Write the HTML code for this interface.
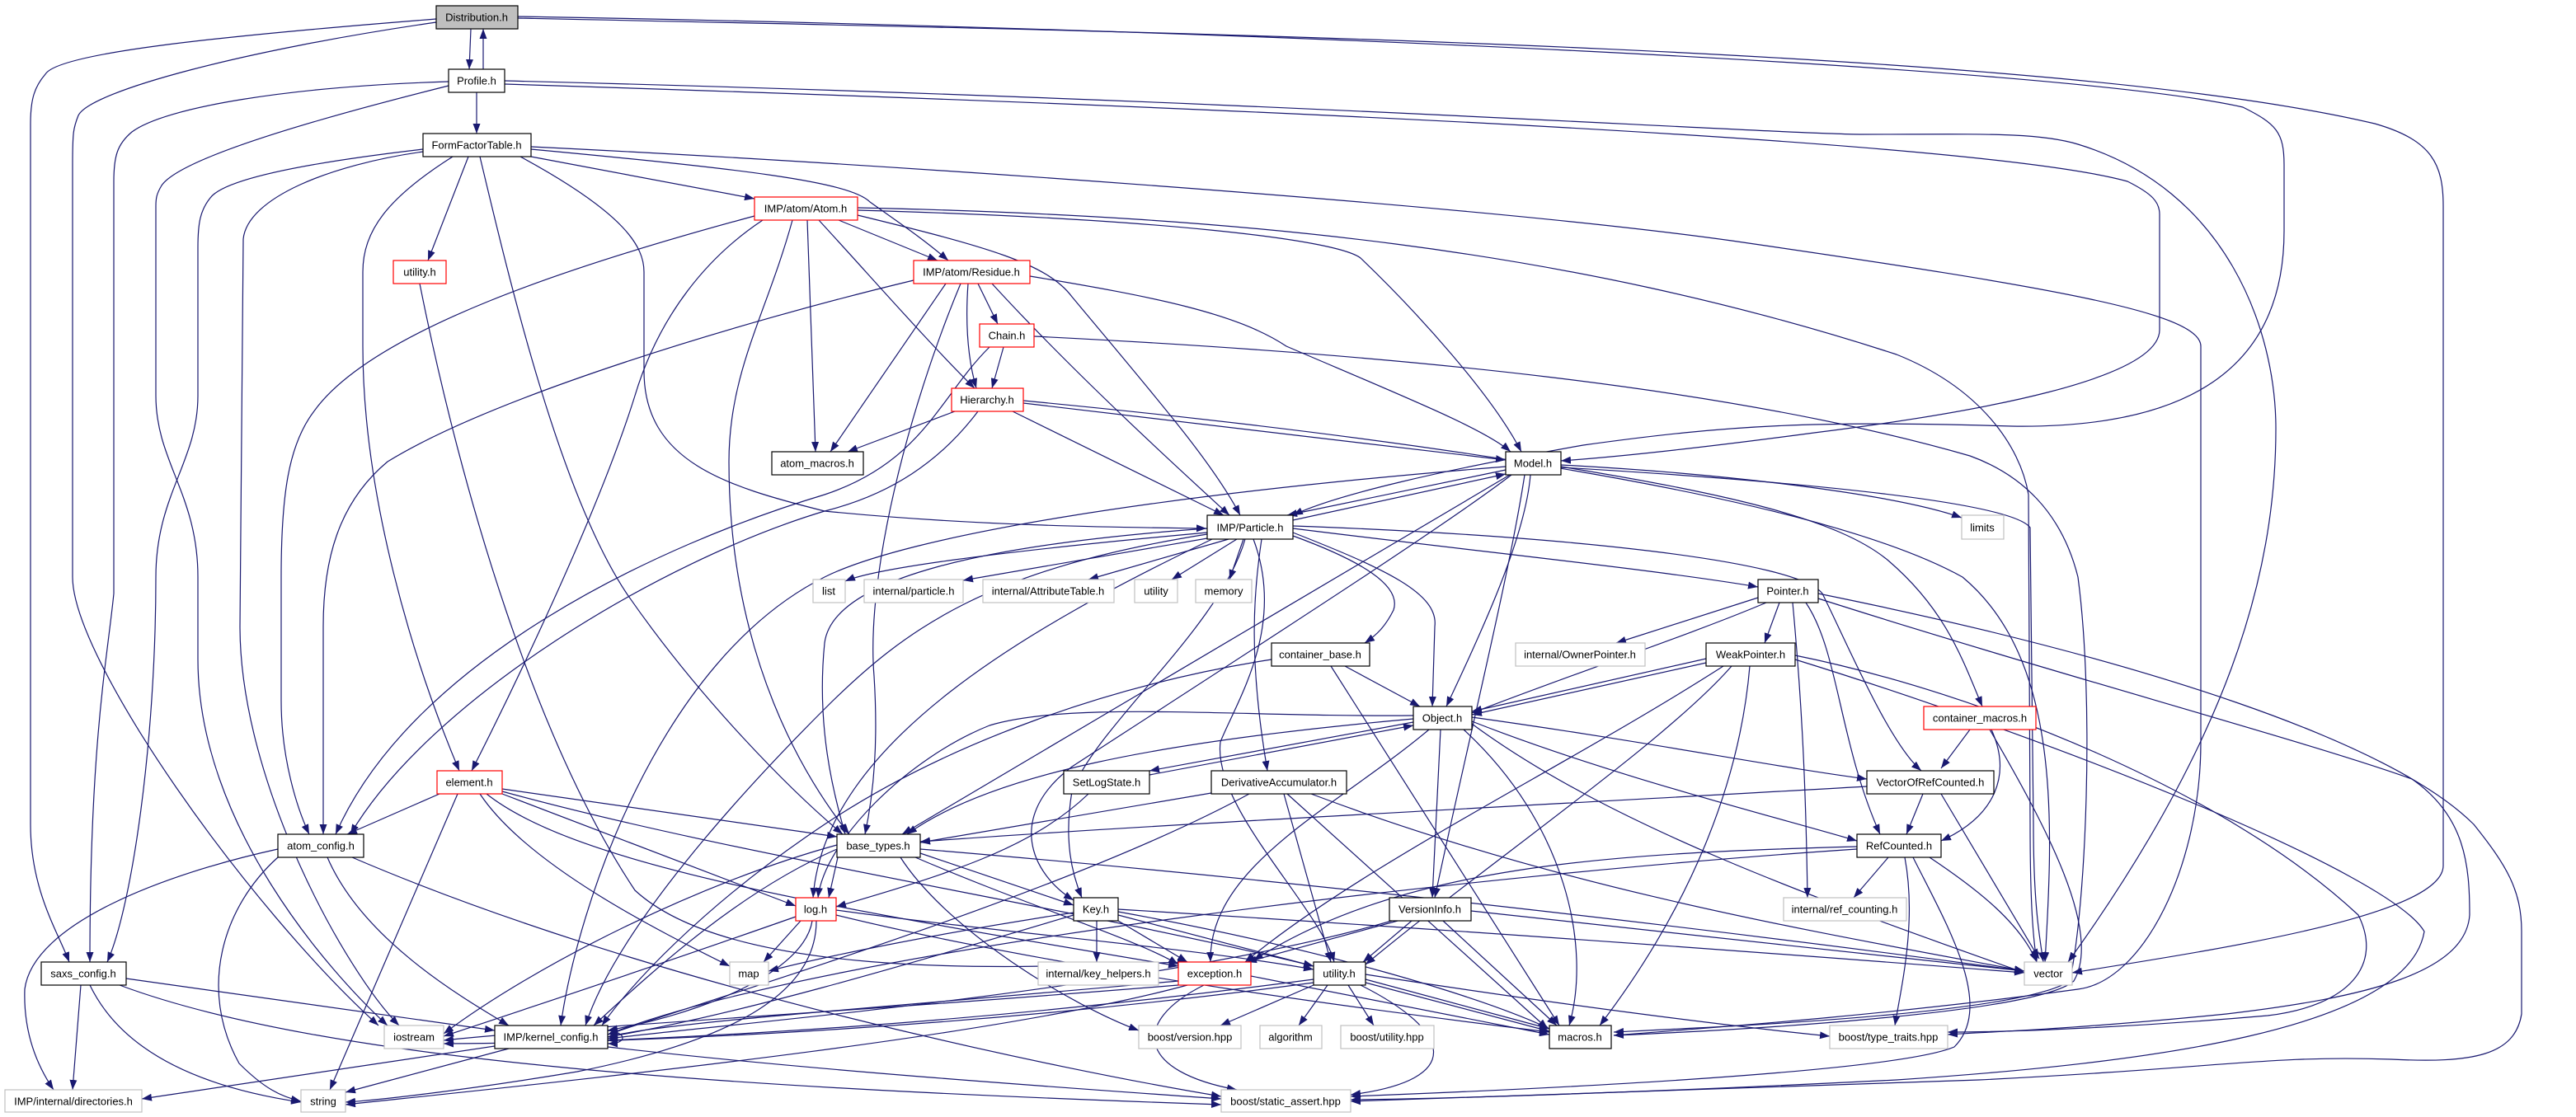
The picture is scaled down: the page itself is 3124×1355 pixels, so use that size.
<!DOCTYPE html>
<html><head><meta charset="utf-8"><style>
html,body{margin:0;padding:0;background:#fff;}
svg{display:block;}
text{font-family:"Liberation Sans",sans-serif;font-size:13px;fill:#000;text-anchor:middle;dominant-baseline:central;}
.e{fill:none;stroke:#191970;stroke-width:1.2;marker-end:url(#a);}
.n{fill:#fff;stroke:#000;stroke-width:1.2;}
.g{fill:#fff;stroke:#c0c0c0;stroke-width:1.2;}
.r{fill:#fff;stroke:#ff0000;stroke-width:1.2;}
</style></head><body>
<svg width="3124" height="1355" viewBox="0 0 3124 1355" xmlns="http://www.w3.org/2000/svg">
<defs><marker id="a" markerUnits="userSpaceOnUse" markerWidth="12" markerHeight="9" refX="12" refY="4.5" orient="auto"><path d="M0,0 L12,4.5 L0,9 z" fill="#191970"/></marker></defs>
<g>
<!-- D / P -->
<path class="e" d="M571,35 L569,84"/>
<path class="e" d="M586,84 L586,35"/>
<path class="e" d="M529,23 C250,45 70,65 55,90 C42,105 37,120 37,150 L37,1000 C37,1080 70,1130 84,1167"/>
<path class="e" d="M529,27 C300,60 110,110 95,140 C89,155 88,160 88,200 L88,700 C88,800 300,1100 459,1244"/>
<path class="e" d="M544,99 C350,105 200,130 160,160 C142,175 138,190 138,220 L138,720 C130,800 109,900 109,1167"/>
<path class="e" d="M544,104 C400,140 220,190 196,225 C190,235 189,240 189,250 L189,480 C189,560 240,600 240,700 L240,800 C240,1000 400,1180 470,1244"/>
<path class="e" d="M513,181 C350,200 270,220 255,240 C243,255 240,270 240,300 L240,480 C240,560 189,600 189,700 C189,900 160,1100 130,1167"/>
<path class="e" d="M513,184 C400,200 300,240 295,290 L291,760 C291,950 420,1180 484,1244"/>
<path class="e" d="M628,22 C1500,40 2500,60 2880,150 C2950,170 2963,200 2963,250 L2963,1050 C2963,1110 2700,1150 2513,1180"/>
<path class="e" d="M628,20 C1500,35 2500,80 2720,130 C2760,150 2770,160 2770,200 L2770,280 C2770,450 2650,520 2440,517 C2200,510 2100,515 1920,540 C1750,570 1620,600 1568,625"/>
<path class="e" d="M612,98 C1500,120 2100,160 2255,163 C2400,163 2470,160 2520,175 C2700,230 2760,400 2760,520 C2760,700 2700,900 2508,1167"/>
<path class="e" d="M612,102 C1500,130 2400,170 2580,220 C2610,235 2619,245 2619,260 L2619,400 C2619,460 2400,500 2200,525 C2050,545 1950,555 1893,559"/>
<path class="e" d="M578,112 L578,162"/>
<!-- FFT -->
<path class="e" d="M568,190 L519,316"/>
<path class="e" d="M549,190 C470,240 440,280 440,330 L440,420 C440,600 500,800 557,935"/>
<path class="e" d="M582,190 C620,350 680,600 760,720 C850,850 960,960 1022,1012"/>
<path class="e" d="M631,190 C760,260 781,300 781,330 L781,450 C781,560 880,590 1000,620 C1200,640 1400,640 1463,641"/>
<path class="e" d="M644,190 L915,241"/>
<path class="e" d="M644,181 C900,205 1030,220 1055,245 C1090,270 1120,290 1150,316"/>
<path class="e" d="M644,178 C1100,200 1800,250 2100,292 C2500,350 2669,380 2669,420 L2669,900 C2669,1050 2600,1190 2520,1200 C2300,1230 2100,1245 1957,1256"/>
<!-- Atom -->
<path class="e" d="M915,262 C700,320 450,400 380,500 C350,540 341,600 341,700 L341,850 C341,920 360,980 375,1012"/>
<path class="e" d="M925,267 C860,310 800,380 770,480 C720,640 600,880 572,935"/>
<path class="e" d="M961,267 C930,380 884,450 884,560 C884,800 980,950 1030,1012"/>
<path class="e" d="M979,267 L989,548"/>
<path class="e" d="M993,267 C1060,340 1130,420 1182,471"/>
<path class="e" d="M1017,267 L1137,316"/>
<path class="e" d="M1040,261 C1200,300 1270,320 1300,360 C1400,480 1470,560 1504,625"/>
<path class="e" d="M1040,255 C1400,265 1620,290 1650,313 C1720,380 1810,480 1845,548"/>
<path class="e" d="M1040,252 C1500,262 1900,300 2300,430 C2400,470 2450,540 2460,600 L2462,1000 C2462,1100 2466,1140 2470,1167"/>
<!-- Residue -->
<path class="e" d="M1108,340 C900,390 600,480 470,560 C410,610 392,680 392,760 L392,1012"/>
<path class="e" d="M1147,344 L1007,548"/>
<path class="e" d="M1165,344 C1100,500 1050,700 1060,820 C1065,900 1060,960 1049,1012"/>
<path class="e" d="M1186,344 L1210,393"/>
<path class="e" d="M1174,344 C1170,400 1175,440 1184,471"/>
<path class="e" d="M1203,344 C1300,450 1420,560 1491,625"/>
<path class="e" d="M1249,335 C1400,360 1500,380 1560,420 C1700,480 1800,520 1832,548"/>
<!-- Chain / Hier -->
<path class="e" d="M1217,421 L1203,471"/>
<path class="e" d="M1200,421 C1140,480 1120,560 1000,600 C800,660 500,800 407,1012"/>
<path class="e" d="M1254,408 C1700,430 2100,470 2389,553 C2450,575 2500,620 2520,700 C2540,850 2530,1100 2510,1190 C2450,1230 2100,1245 1957,1252"/>
<path class="e" d="M1158,499 L1028,548"/>
<path class="e" d="M1186,499 C1140,560 1080,600 1000,620 C800,680 520,850 425,1012"/>
<path class="e" d="M1228,499 L1484,625"/>
<path class="e" d="M1241,489 L1826,558"/>
<path class="e" d="M1241,486 C1700,530 2200,600 2380,700 C2500,800 2490,1000 2480,1167"/>
<!-- Model -->
<path class="e" d="M1826,570 L1561,625"/>
<path class="e" d="M1568,631 L1826,575"/>
<path class="e" d="M1831,576 L1094,1012"/>
<path class="e" d="M1826,566 C1400,600 1100,650 1000,700 C800,800 700,1100 680,1244"/>
<path class="e" d="M1856,576 C1850,650 1800,760 1754,857"/>
<path class="e" d="M1849,576 C1830,700 1780,900 1740,1089"/>
<path class="e" d="M1893,564 C2100,575 2300,600 2379,628"/>
<path class="e" d="M1893,566 C2100,600 2230,630 2290,680 C2360,740 2380,800 2404,857"/>
<path class="e" d="M1893,567 C2200,585 2440,610 2462,640 L2466,1000 C2466,1100 2474,1140 2478,1167"/>
<path class="e" d="M1833,576 C1750,640 1500,800 1300,930 C1220,990 1250,1060 1302,1092"/>
<!-- Particle -->
<path class="e" d="M1464,646 C1200,670 1060,690 1025,705"/>
<path class="e" d="M1470,652 L1168,704"/>
<path class="e" d="M1490,654 L1320,703"/>
<path class="e" d="M1500,654 L1421,703"/>
<path class="e" d="M1508,654 L1491,703"/>
<path class="e" d="M1568,650 C1650,680 1700,710 1690,740 C1680,760 1670,770 1655,780"/>
<path class="e" d="M1568,646 C1680,690 1745,720 1740,760 L1737,857"/>
<path class="e" d="M1530,654 C1520,720 1514,800 1537,935"/>
<path class="e" d="M1568,641 C1800,670 2000,690 2132,712"/>
<path class="e" d="M1568,638 C1900,650 2180,680 2210,720 C2240,780 2290,900 2330,935"/>
<path class="e" d="M1464,641 C1200,660 1010,700 1000,780 C990,880 1010,960 1025,1012"/>
<path class="e" d="M1464,648 C1200,690 1100,760 1000,860 C850,1010 740,1150 710,1244"/>
<path class="e" d="M1470,654 C1250,760 1000,900 986,1089"/>
<path class="e" d="M1520,654 C1560,760 1500,850 1480,900 C1470,980 1600,1100 1618,1167"/>
<path class="e" d="M1510,654 C1480,760 1330,880 1300,960 C1290,1020 1300,1060 1312,1089"/>
<!-- Pointer / Weak -->
<path class="e" d="M2158,731 L2140,780"/>
<path class="e" d="M2132,725 L1960,780"/>
<path class="e" d="M2142,731 C2050,770 1900,820 1785,865"/>
<path class="e" d="M2190,731 C2230,790 2230,900 2280,1012"/>
<path class="e" d="M2174,731 C2185,850 2190,950 2192,1089"/>
<path class="e" d="M2205,726 C2500,820 2800,900 2925,945 C2990,990 2995,1050 2995,1110 C2990,1180 2870,1210 2700,1230 C2500,1250 2400,1252 2362,1255"/>
<path class="e" d="M2205,720 C2600,800 2900,900 3000,1000 C3040,1050 3058,1080 3058,1130 L3058,1230 C3050,1280 3000,1290 2900,1285 C2750,1280 2700,1295 2400,1310 C2000,1325 1700,1335 1638,1336"/>
<path class="e" d="M2069,799 L1785,863"/>
<path class="e" d="M2069,804 L1785,867"/>
<path class="e" d="M2090,808 C1900,930 1650,1050 1510,1167"/>
<path class="e" d="M2100,808 C2020,900 1800,1050 1656,1170"/>
<path class="e" d="M2122,808 C2110,950 2050,1100 1940,1244"/>
<path class="e" d="M2177,795 C2400,840 2700,960 2860,1110 C2890,1170 2850,1220 2750,1232 C2600,1245 2450,1252 2362,1252"/>
<path class="e" d="M2177,800 C2500,900 2900,1060 2940,1130 C2920,1250 2600,1290 2300,1310 C2000,1325 1750,1333 1638,1334"/>
<!-- cmac / VecRC / RefC -->
<path class="e" d="M2389,885 L2354,932"/>
<path class="e" d="M2415,885 C2440,940 2420,990 2354,1020"/>
<path class="e" d="M2413,885 C2480,1000 2550,1130 2515,1190 C2470,1230 2100,1250 1957,1256"/>
<path class="e" d="M2332,963 L2312,1012"/>
<path class="e" d="M2354,963 L2473,1163"/>
<path class="e" d="M2264,954 C1900,975 1400,1000 1116,1021"/>
<path class="e" d="M2290,1040 L2248,1089"/>
<path class="e" d="M2340,1040 C2400,1080 2450,1120 2470,1167"/>
<path class="e" d="M2310,1040 C2325,1120 2305,1200 2298,1244"/>
<path class="e" d="M2320,1040 C2360,1120 2420,1220 2370,1270 C2300,1300 1900,1320 1638,1330"/>
<path class="e" d="M2252,1027 C1950,1035 1700,1050 1520,1165"/>
<path class="e" d="M2252,1030 C1800,1060 1000,1150 737,1255"/>
<!-- Object -->
<path class="e" d="M1714,876 L1394,935"/>
<path class="e" d="M1394,940 L1714,880"/>
<path class="e" d="M1785,870 C2000,900 2150,930 2264,945"/>
<path class="e" d="M1785,875 C1950,940 2150,990 2252,1020"/>
<path class="e" d="M1747,885 L1737,1089"/>
<path class="e" d="M1733,885 C1620,980 1465,1050 1468,1167"/>
<path class="e" d="M1775,885 C1900,1000 1930,1150 1903,1244"/>
<path class="e" d="M1785,878 C1950,1000 2200,1090 2455,1180"/>
<path class="e" d="M1714,872 C1400,900 1200,940 1100,1012"/>
<path class="e" d="M1714,868 C1500,870 1300,850 1200,880 C1100,920 1000,1020 992,1089"/>
<!-- cbase / SetLog / Deriv -->
<path class="e" d="M1631,808 L1722,857"/>
<path class="e" d="M1542,800 C1350,830 1150,900 1000,1000 C850,1100 760,1200 730,1244"/>
<path class="e" d="M1614,808 L1891,1244"/>
<path class="e" d="M1320,963 C1250,1030 1150,1060 1014,1100"/>
<path class="e" d="M1469,962 L1116,1022"/>
<path class="e" d="M1515,963 C1300,1080 900,1200 737,1255"/>
<path class="e" d="M1557,963 L1614,1167"/>
<path class="e" d="M1561,963 L1877,1248"/>
<path class="e" d="M1590,963 C1900,1080 2200,1130 2455,1178"/>
<!-- element -->
<path class="e" d="M533,963 L421,1012"/>
<path class="e" d="M555,963 L400,1322"/>
<path class="e" d="M609,957 L1015,1015"/>
<path class="e" d="M609,963 L965,1099"/>
<path class="e" d="M582,963 C640,1050 800,1130 885,1172"/>
<path class="e" d="M590,963 C700,1050 1000,1100 1429,1172"/>
<path class="e" d="M609,960 C900,1040 1300,1100 1593,1172"/>
<!-- aconf -->
<path class="e" d="M337,1030 C200,1060 40,1120 30,1200 C28,1260 50,1300 65,1322"/>
<path class="e" d="M337,1040 C270,1100 240,1200 290,1290 C320,1320 340,1330 365,1336"/>
<path class="e" d="M397,1040 C440,1140 560,1210 617,1244"/>
<path class="e" d="M427,1040 C800,1200 1300,1300 1481,1330"/>
<!-- btypes -->
<path class="e" d="M1015,1030 C900,1080 800,1170 720,1244"/>
<path class="e" d="M1015,1025 C850,1070 650,1170 538,1254"/>
<path class="e" d="M1116,1035 L1302,1098"/>
<path class="e" d="M1110,1040 C1250,1100 1380,1140 1429,1170"/>
<path class="e" d="M1092,1040 C1150,1130 1300,1220 1381,1250"/>
<path class="e" d="M1116,1030 C1600,1070 2100,1130 2455,1178"/>
<path class="e" d="M1016,1040 L1005,1089"/>
<!-- log -->
<path class="e" d="M971,1117 L926,1167"/>
<path class="e" d="M965,1112 C800,1170 650,1220 538,1257"/>
<path class="e" d="M985,1117 C975,1180 850,1230 737,1250"/>
<path class="e" d="M990,1117 C990,1200 900,1260 700,1300 C550,1325 450,1335 419,1337"/>
<path class="e" d="M1014,1104 C1200,1130 1450,1150 1593,1176"/>
<path class="e" d="M1014,1110 C1300,1180 1700,1230 1879,1252"/>
<!-- Key -->
<path class="e" d="M1330,1117 L1330,1167"/>
<path class="e" d="M1356,1117 L1440,1167"/>
<path class="e" d="M1356,1110 L1593,1172"/>
<path class="e" d="M1302,1107 C1150,1130 1000,1160 932,1178"/>
<path class="e" d="M1356,1106 C1600,1150 1800,1210 1879,1248"/>
<path class="e" d="M1356,1103 C1800,1130 2200,1160 2455,1180"/>
<path class="e" d="M1302,1110 C1100,1170 900,1230 737,1258"/>
<!-- VersionInfo -->
<path class="e" d="M1695,1117 L1512,1167"/>
<path class="e" d="M1712,1117 L1653,1167"/>
<path class="e" d="M1750,1117 L1888,1244"/>
<path class="e" d="M1784,1105 L2455,1178"/>
<path class="e" d="M1688,1117 C1400,1200 900,1240 737,1260"/>
<!-- exception -->
<path class="e" d="M1429,1190 C1100,1220 800,1240 737,1258"/>
<path class="e" d="M1429,1195 C1000,1230 700,1245 538,1262"/>
<path class="e" d="M1440,1195 C1200,1260 700,1310 419,1340"/>
<path class="e" d="M1460,1195 C1370,1240 1380,1300 1500,1322"/>
<path class="e" d="M1517,1184 L1879,1255"/>
<!-- utility.h -->
<path class="e" d="M1593,1195 L1480,1244"/>
<path class="e" d="M1610,1195 L1575,1244"/>
<path class="e" d="M1635,1195 L1666,1244"/>
<path class="e" d="M1656,1188 L1879,1248"/>
<path class="e" d="M1656,1192 L1879,1251"/>
<path class="e" d="M1656,1182 C1900,1220 2100,1245 2219,1257"/>
<path class="e" d="M1650,1195 C1760,1250 1780,1310 1638,1328"/>
<path class="e" d="M1593,1188 C1200,1240 900,1255 737,1262"/>
<path class="e" d="M1593,1192 C1200,1245 800,1265 538,1266"/>
<!-- kconf / saxs -->
<path class="e" d="M737,1250 C760,1252 762,1266 737,1266"/>
<path class="e" d="M600,1269 L172,1333"/>
<path class="e" d="M617,1272 L419,1325"/>
<path class="e" d="M737,1270 C1000,1300 1300,1320 1481,1333"/>
<path class="e" d="M98,1195 L88,1322"/>
<path class="e" d="M109,1195 C150,1280 250,1320 365,1337"/>
<path class="e" d="M153,1187 L600,1250"/>
<path class="e" d="M145,1195 C400,1290 900,1320 1481,1340"/>
<path class="e" d="M509,344 C560,600 650,900 770,1080 C900,1200 1300,1170 1440,1167"/>
</g>
<g>
<rect x="529" y="7" width="99" height="28" fill="#bfbfbf" stroke="#000" stroke-width="1.2"/><text x="578" y="21">Distribution.h</text>
<rect class="n" x="544" y="84" width="68" height="28"/><text x="578" y="98">Profile.h</text>
<rect class="n" x="513" y="162" width="131" height="28"/><text x="578" y="176">FormFactorTable.h</text>
<rect class="r" x="915" y="239" width="125" height="28"/><text x="977" y="253">IMP/atom/Atom.h</text>
<rect class="r" x="477" y="316" width="64" height="28"/><text x="509" y="330">utility.h</text>
<rect class="r" x="1108" y="316" width="141" height="28"/><text x="1178" y="330">IMP/atom/Residue.h</text>
<rect class="r" x="1188" y="393" width="66" height="28"/><text x="1221" y="407">Chain.h</text>
<rect class="r" x="1154" y="471" width="87" height="28"/><text x="1197" y="485">Hierarchy.h</text>
<rect class="n" x="936" y="548" width="111" height="28"/><text x="991" y="562">atom_macros.h</text>
<rect class="n" x="1826" y="548" width="67" height="28"/><text x="1859" y="562">Model.h</text>
<rect class="n" x="1464" y="625" width="104" height="29"/><text x="1516" y="640">IMP/Particle.h</text>
<rect class="g" x="2379" y="625" width="51" height="29"/><text x="2404" y="640">limits</text>
<rect class="g" x="986" y="703" width="39" height="28"/><text x="1005" y="717">list</text>
<rect class="g" x="1048" y="703" width="120" height="28"/><text x="1108" y="717">internal/particle.h</text>
<rect class="g" x="1192" y="703" width="159" height="28"/><text x="1271" y="717">internal/AttributeTable.h</text>
<rect class="g" x="1376" y="703" width="52" height="28"/><text x="1402" y="717">utility</text>
<rect class="g" x="1450" y="703" width="68" height="28"/><text x="1484" y="717">memory</text>
<rect class="n" x="2132" y="703" width="73" height="28"/><text x="2168" y="717">Pointer.h</text>
<rect class="n" x="1542" y="780" width="119" height="28"/><text x="1601" y="794">container_base.h</text>
<rect class="g" x="1838" y="780" width="157" height="28"/><text x="1916" y="794">internal/OwnerPointer.h</text>
<rect class="n" x="2069" y="780" width="108" height="28"/><text x="2123" y="794">WeakPointer.h</text>
<rect class="n" x="1714" y="857" width="71" height="28"/><text x="1749" y="871">Object.h</text>
<rect class="r" x="2333" y="857" width="136" height="28"/><text x="2401" y="871">container_macros.h</text>
<rect class="r" x="530" y="935" width="79" height="28"/><text x="569" y="949">element.h</text>
<rect class="n" x="1290" y="935" width="104" height="28"/><text x="1342" y="949">SetLogState.h</text>
<rect class="n" x="1469" y="935" width="164" height="28"/><text x="1551" y="949">DerivativeAccumulator.h</text>
<rect class="n" x="2264" y="935" width="154" height="28"/><text x="2341" y="949">VectorOfRefCounted.h</text>
<rect class="n" x="337" y="1012" width="104" height="28"/><text x="389" y="1026">atom_config.h</text>
<rect class="n" x="1015" y="1012" width="101" height="28"/><text x="1065" y="1026">base_types.h</text>
<rect class="n" x="2252" y="1012" width="102" height="28"/><text x="2303" y="1026">RefCounted.h</text>
<rect class="r" x="965" y="1089" width="49" height="28"/><text x="989" y="1103">log.h</text>
<rect class="n" x="1302" y="1089" width="54" height="28"/><text x="1329" y="1103">Key.h</text>
<rect class="n" x="1685" y="1089" width="99" height="28"/><text x="1734" y="1103">VersionInfo.h</text>
<rect class="g" x="2163" y="1089" width="149" height="28"/><text x="2237" y="1103">internal/ref_counting.h</text>
<rect class="n" x="50" y="1167" width="103" height="28"/><text x="101" y="1181">saxs_config.h</text>
<rect class="g" x="885" y="1167" width="47" height="28"/><text x="908" y="1181">map</text>
<rect class="g" x="1259" y="1167" width="146" height="28"/><text x="1332" y="1181">internal/key_helpers.h</text>
<rect class="r" x="1429" y="1167" width="88" height="28"/><text x="1473" y="1181">exception.h</text>
<rect class="n" x="1593" y="1167" width="63" height="28"/><text x="1624" y="1181">utility.h</text>
<rect class="g" x="2455" y="1167" width="58" height="28"/><text x="2484" y="1181">vector</text>
<rect class="g" x="466" y="1244" width="72" height="28"/><text x="502" y="1258">iostream</text>
<rect class="n" x="600" y="1244" width="137" height="28"/><text x="668" y="1258">IMP/kernel_config.h</text>
<rect class="g" x="1381" y="1244" width="124" height="28"/><text x="1443" y="1258">boost/version.hpp</text>
<rect class="g" x="1528" y="1244" width="75" height="28"/><text x="1565" y="1258">algorithm</text>
<rect class="g" x="1626" y="1244" width="113" height="28"/><text x="1682" y="1258">boost/utility.hpp</text>
<rect class="n" x="1879" y="1244" width="75" height="28"/><text x="1916" y="1258">macros.h</text>
<rect class="g" x="2219" y="1244" width="143" height="28"/><text x="2290" y="1258">boost/type_traits.hpp</text>
<rect class="g" x="6" y="1322" width="166" height="27"/><text x="89" y="1336">IMP/internal/directories.h</text>
<rect class="g" x="365" y="1322" width="54" height="27"/><text x="392" y="1336">string</text>
<rect class="g" x="1481" y="1322" width="157" height="27"/><text x="1559" y="1336">boost/static_assert.hpp</text>
</g>
</svg>
</body></html>
